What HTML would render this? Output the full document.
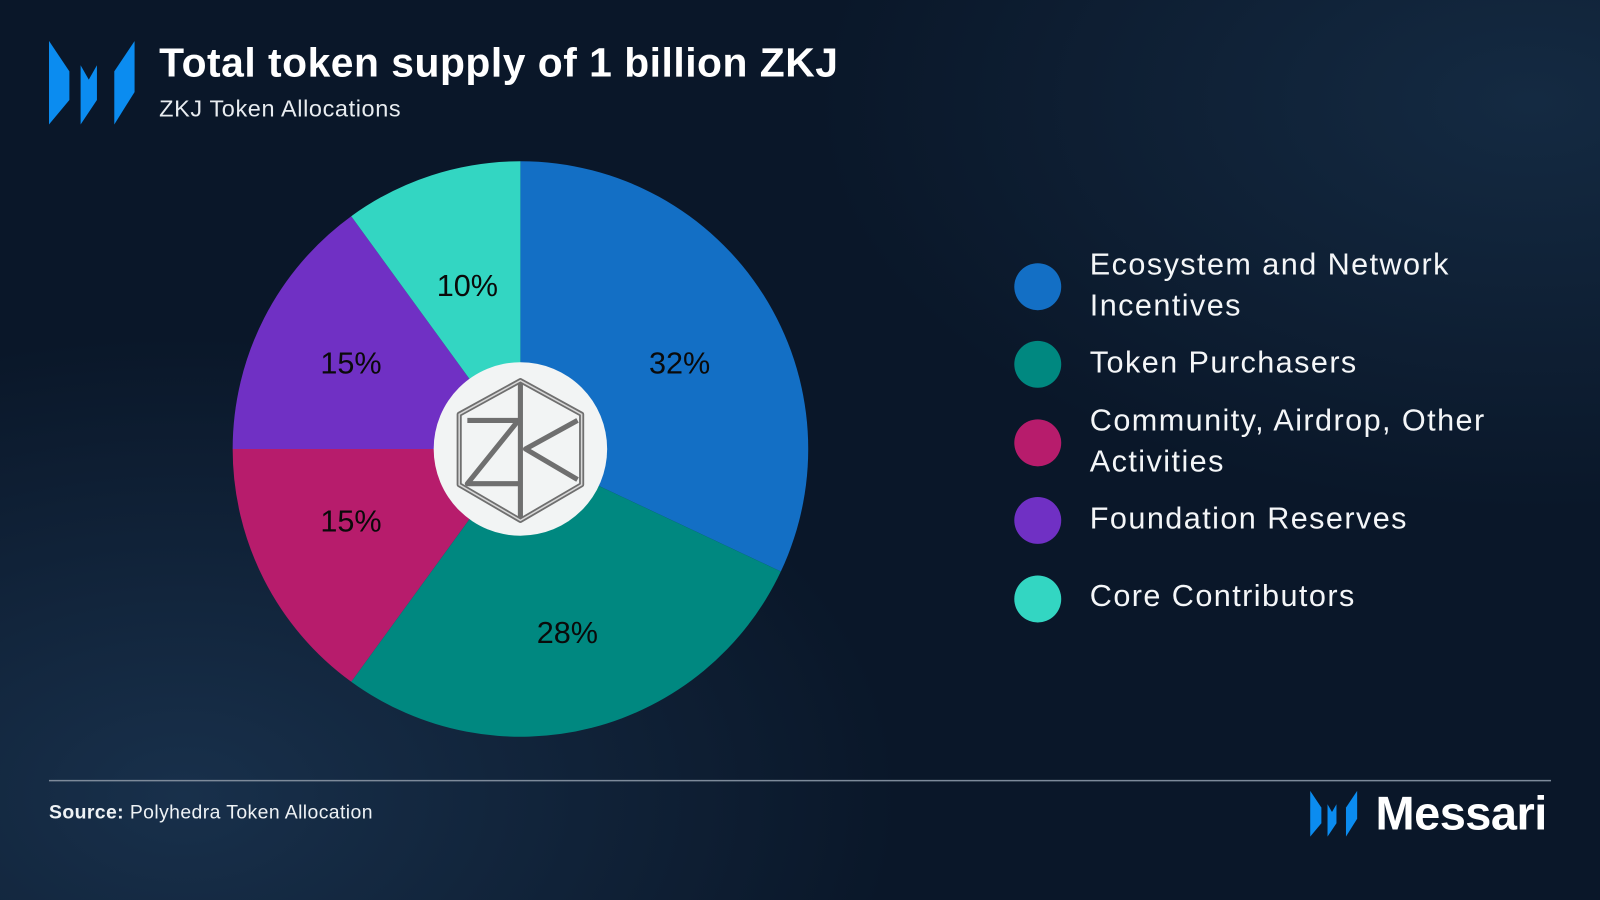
<!DOCTYPE html>
<html><head><meta charset="utf-8"><style>
html,body{margin:0;padding:0;width:1600px;height:900px;overflow:hidden;background:#0b1a2c}
#w{width:1568px;height:882px;transform:scale(1.020408);transform-origin:0 0;position:relative;
background:radial-gradient(ellipse 700px 450px at 180px 780px,#18304b 0%,rgba(20,40,62,0) 100%),radial-gradient(ellipse 700px 400px at 1500px 100px,#142a42 0%,rgba(20,40,62,0) 100%),#0a1729;
font-family:"Liberation Sans",sans-serif;color:#fff}
.t{position:absolute;white-space:nowrap}
.lg{position:absolute;left:1068px;font-size:30px;line-height:40px;color:#f4f6f8;letter-spacing:1.4px}
.dot{position:absolute;left:994px;width:46px;height:46px;border-radius:50%}
</style></head><body><div id="w">
<svg class="t" style="left:48px;top:40px" width="84" height="84" viewBox="0 0 84 84">
<polygon points="0,0 20,30 20,58 0,82" fill="#0b8cf0"/>
<polygon points="31,24 39,38 47,24 47,58 31,82" fill="#0b8cf0"/>
<polygon points="64,30 84,0 84,50 64,82" fill="#0b8cf0"/>
</svg>
<div class="t" style="left:156px;top:40px;font-size:40px;font-weight:bold;letter-spacing:0.5px">Total token supply of 1 billion ZKJ</div>
<div class="t" style="left:156px;top:93px;font-size:23px;color:#e8ecf0;letter-spacing:0.6px">ZKJ Token Allocations</div>
<svg class="t" style="left:0;top:0" width="1568" height="800">
<path d="M510,440 L510,158 A282,282 0 0 1 765.2,560.1 Z" fill="#136fc5"/>
<path d="M510,440 L765.2,560.1 A282,282 0 0 1 344.2,668.1 Z" fill="#008880"/>
<path d="M510,440 L344.2,668.1 A282,282 0 0 1 228,440 Z" fill="#b71c6c"/>
<path d="M510,440 L228,440 A282,282 0 0 1 344.2,211.9 Z" fill="#7030c4"/>
<path d="M510,440 L344.2,211.9 A282,282 0 0 1 510,158 Z" fill="#33d6c2"/>
<circle cx="510" cy="440" r="85" fill="#f2f4f4"/>
<g fill="none" stroke="#6f6f6f" stroke-width="5" stroke-linejoin="round">
<polygon points="510,373 570,406 570,475 510,510 450,475 450,406"/>
<polyline points="458,412 508,412 458,474 508,474"/>
<line x1="510" y1="375" x2="510" y2="508"/>
<polyline points="566,412 515,440 566,470"/>
</g>
<g fill="none" stroke="#d8d8d8" stroke-width="1.5">
<polygon points="510,373 570,406 570,475 510,510 450,475 450,406"/>
</g>
<g font-size="30" fill="#0a0a0a" text-anchor="middle" font-family="Liberation Sans, sans-serif">
<text x="666" y="366">32%</text><text x="556" y="630">28%</text>
<text x="344" y="521">15%</text><text x="344" y="366">15%</text><text x="458" y="290">10%</text>
</g>
<line x1="48" y1="765" x2="1520" y2="765" stroke="#7d8a9a" stroke-width="1.5"/>
</svg>
<div class="dot" style="top:258px;background:#136fc5"></div>
<div class="lg" style="top:240px">Ecosystem and Network<br>Incentives</div>
<div class="dot" style="top:334px;background:#008880"></div>
<div class="lg" style="top:336px">Token Purchasers</div>
<div class="dot" style="top:411px;background:#b71c6c"></div>
<div class="lg" style="top:393px">Community, Airdrop, Other<br>Activities</div>
<div class="dot" style="top:487px;background:#7030c4"></div>
<div class="lg" style="top:489px">Foundation Reserves</div>
<div class="dot" style="top:564px;background:#33d6c2"></div>
<div class="lg" style="top:565px">Core Contributors</div>
<div class="t" style="left:48px;top:786px;font-size:19px;color:#eef2f5;letter-spacing:0.4px"><b>Source:</b> Polyhedra Token Allocation</div>
<svg class="t" style="left:1283px;top:775px" width="48" height="46" viewBox="0 0 84 84">
<polygon points="0,0 20,30 20,58 0,82" fill="#0b8cf0"/>
<polygon points="31,24 39,38 47,24 47,58 31,82" fill="#0b8cf0"/>
<polygon points="64,30 84,0 84,50 64,82" fill="#0b8cf0"/>
</svg>
<div class="t" style="left:1348px;top:770px;font-size:46px;font-weight:bold;letter-spacing:-0.5px">Messari</div>
</div></body></html>
